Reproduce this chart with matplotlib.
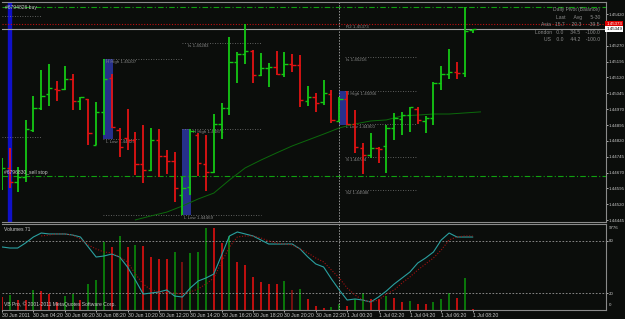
import matplotlib
matplotlib.use('Agg')
import matplotlib.pyplot as plt
from matplotlib.patches import Rectangle

plt.rcParams['font.family'] = ['Liberation Sans', 'DejaVu Sans']

# ---------------- data ----------------
opens = [1.44597, 1.44692, 1.44625, 1.44649, 1.44871, 1.44975, 1.45042, 1.45065, 1.45065, 1.45113,
         1.45009, 1.45018, 1.44800, 1.44957, 1.45117, 1.44871, 1.44834, 1.44824, 1.44711, 1.44682,
         1.44824, 1.44748, 1.44725, 1.44564, 1.44602, 1.44848, 1.44711, 1.44673, 1.44900, 1.44975,
         1.45193, 1.45231, 1.45245, 1.45132, 1.45165, 1.45169, 1.45136, 1.45184, 1.45179, 1.45009,
         1.45027, 1.45004, 1.45042, 1.44914, 1.45018, 1.44900, 1.44786, 1.44753, 1.44786, 1.44796,
         1.44881, 1.44923, 1.44942, 1.44971, 1.44914, 1.44928, 1.45094, 1.45136, 1.45146, 1.45141,
         1.45344]
highs = [1.44739, 1.44786, 1.44696, 1.44919, 1.45032, 1.45155, 1.45184, 1.45103, 1.45174, 1.45136,
         1.45027, 1.45018, 1.45004, 1.45207, 1.45136, 1.44881, 1.44971, 1.44862, 1.44895, 1.44881,
         1.44876, 1.44777, 1.44767, 1.44649, 1.44876, 1.44857, 1.44848, 1.44947, 1.44999, 1.45311,
         1.45240, 1.45373, 1.45250, 1.45236, 1.45188, 1.45245, 1.45240, 1.45231, 1.45226, 1.45079,
         1.45046, 1.45108, 1.45061, 1.45027, 1.45056, 1.44966, 1.44810, 1.44857, 1.44791, 1.44895,
         1.44952, 1.44957, 1.44980, 1.44980, 1.44938, 1.45098, 1.45174, 1.45254, 1.45193, 1.45453,
         1.45349]
lows = [1.44588, 1.44597, 1.44578, 1.44625, 1.44862, 1.44966, 1.44985, 1.45009, 1.45061, 1.44966,
        1.44966, 1.44800, 1.44800, 1.44848, 1.44881, 1.44744, 1.44777, 1.44659, 1.44621, 1.44677,
        1.44649, 1.44663, 1.44531, 1.44469, 1.44564, 1.44654, 1.44583, 1.44668, 1.44829, 1.44942,
        1.45094, 1.45184, 1.45094, 1.45127, 1.45075, 1.45132, 1.45122, 1.45146, 1.44980, 1.44985,
        1.44957, 1.44990, 1.44904, 1.44909, 1.44895, 1.44763, 1.44663, 1.44739, 1.44715, 1.44668,
        1.44824, 1.44848, 1.44862, 1.44900, 1.44857, 1.44895, 1.45061, 1.45113, 1.45113, 1.45122,
        1.45330]
closes = [1.44692, 1.44625, 1.44649, 1.44876, 1.44975, 1.45032, 1.45070, 1.45061, 1.45113, 1.45009,
          1.45027, 1.44857, 1.44957, 1.45113, 1.44886, 1.44791, 1.44824, 1.44711, 1.44682, 1.44824,
          1.44748, 1.44725, 1.44597, 1.44597, 1.44867, 1.44715, 1.44673, 1.44900, 1.44975, 1.45193,
          1.45231, 1.45245, 1.45132, 1.45165, 1.45169, 1.45136, 1.45184, 1.45179, 1.45013, 1.45027,
          1.44999, 1.45046, 1.44919, 1.45018, 1.44900, 1.44791, 1.44753, 1.44786, 1.44781, 1.44881,
          1.44928, 1.44942, 1.44980, 1.44919, 1.44928, 1.45094, 1.45136, 1.45146, 1.45141, 1.45340,
          1.45349]

volumes = [1480, 1710, 1140, 1140, 2280, 2170, 1820, 910, 1600, 1820,
           1140, 2960, 3420, 7750, 7180, 8440, 7180, 7410, 7300, 6040,
           5810, 5810, 6610, 5470, 6500, 6610, 9350, 9350, 7640, 8440,
           5470, 5130, 3760, 3190, 2960, 2960, 3310, 2280, 2390, 1250,
           460, 230, 340, 680, 460, 1250, 1940, 1250, 1250, 1600,
           1370, 910, 1030, 680, 680, 910, 1250, 1940, 1370, 3650, 110]
volume_colors = ['r', 'g', 'r', 'r', 'g', 'r', 'r', 'r', 'g', 'g',
                 'r', 'g', 'g', 'g', 'r', 'g', 'r', 'g', 'r', 'r',
                 'r', 'r', 'g', 'd', 'g', 'g', 'g', 'r', 'r', 'g',
                 'r', 'r', 'r', 'r', 'r', 'r', 'g', 'd', 'g', 'r',
                 'r', 'r', 'g', 'g', 'r', 'g', 'g', 'r', 'r', 'g',
                 'r', 'r', 'g', 'r', 'r', 'g', 'g', 'g', 'r', 'g', 'r']

osc_line = [73.1, 71.9, 71.9, 77.7, 84.6, 89.2, 88.1, 88.1, 88.1, 86.9,
            84.6, 73.1, 61.5, 62.7, 65.0, 61.5, 50.0, 35.0, 18.8, 20.0,
            21.2, 23.5, 16.5, 15.4, 25.8, 33.8, 37.3, 41.9, 63.8, 85.8,
            90.4, 88.1, 85.8, 81.2, 76.5, 76.5, 76.5, 76.5, 70.8, 61.5,
            53.5, 50.0, 36.2, 23.5, 11.9, 13.1, 11.9, 9.6, 15.4, 22.3,
            30.4, 37.3, 44.2, 54.6, 60.4, 67.3, 81.2, 89.2, 84.6, 84.6, 84.6]
signal_start = 5
signal_line = [85.8, 86.9, 88.1, 88.1, 86.9, 82.3, 75.4, 70.8, 67.3, 66.2,
               61.5, 55.8, 41.9, 30.4, 23.5, 21.2, 20.0, 20.0, 18.8, 21.2,
               24.6, 30.4, 37.3, 55.8, 73.1, 84.6, 85.8, 85.8, 83.5, 80.0,
               77.7, 76.5, 75.4, 70.8, 66.2, 60.4, 55.8, 46.5, 37.3, 25.8,
               17.7, 11.9, 9.6, 11.9, 18.8, 23.5, 31.5, 38.5, 46.5, 53.5,
               60.4, 69.6, 81.2, 84.6, 85.8, 85.8]

ma_bars = [17, 19, 21, 23, 25, 27, 29, 31, 33, 35, 37, 39, 41, 43, 45, 47, 49, 51, 53, 55, 57, 59, 61]
ma_vals = [1.44446, 1.44465, 1.44483, 1.44512, 1.44545, 1.44573, 1.44635, 1.44692, 1.44729, 1.44763,
           1.44796, 1.44824, 1.44852, 1.44881, 1.44900, 1.44914, 1.44919, 1.44938, 1.44942, 1.44947,
           1.44947, 1.44952, 1.44957]

# highlighted boxes: (first bar, last bar, top, bottom)
box_first = [13, 23, 43]
box_last = [14, 24, 44]
box_top = [1.45207, 1.44876, 1.45056]
box_bottom = [1.44829, 1.44469, 1.44895]

# dotted level lines: price, start bar, end bar, label
level_price = [1.45411, 1.44838, 1.45207, 1.44829, 1.45283, 1.44876, 1.44469,
               1.45216, 1.45056, 1.44900, 1.44744, 1.44588]
level_start = [0.0, 0.0, 12.9, 12.9, 22.9, 22.9, 12.9, 43.7, 43.7, 44.0, 43.7, 43.7]
level_end = [5.0, 5.0, 22.9, 17.6, 33.0, 33.0, 33.0, 52.9, 52.9, 52.9, 52.9, 52.9]
level_label = ['', '', 'H High 1.45207', 'L Low 1.44829', 'Is 1.45283', 'H High 1.44876',
               'L Low 1.44469', 'Is 1.45216', 'H High 1.45056', 'L Low 1.44900',
               'S 1.44744', 'S2 1.44588']
level_label_bar = [0, 0, 13.3, 13.3, 23.7, 24.3, 23.2, 43.8, 43.8, 43.8, 43.8, 43.8]
ask_label = 'R2 1.45373'

price_ticks = [1.45420, 1.45270, 1.45195, 1.45120, 1.45045, 1.44970, 1.44895,
               1.44820, 1.44745, 1.44670, 1.44595, 1.44520, 1.44445]
ask_price = 1.45373
bid_price = 1.45349
buy_level = 1.45453
sell_stop_level = 1.44654

date_ticks = [0, 4, 8, 12, 16, 20, 24, 28, 32, 36, 40, 44, 48, 52, 56, 60]
date_labels = ['30 Jun 2011', '30 Jun 04:20', '30 Jun 06:20', '30 Jun 08:20', '30 Jun 10:20',
               '30 Jun 12:20', '30 Jun 14:20', '30 Jun 16:20', '30 Jun 18:20', '30 Jun 20:20',
               '30 Jun 22:20', '1 Jul 00:20', '1 Jul 02:20', '1 Jul 04:20', '1 Jul 06:20',
               '1 Jul 08:20']
day_sep_bar = 43

# ---------------- styling ----------------
BG = '#0b0d0b'
GRID = '#8a8a8a'
TXT = '#c8c8c8'
LVL = '#7a7a7a'
UP = '#14c814'
DN = '#e31313'
FS = 3.2

W, H = 625, 319
fig = plt.figure(figsize=(W / 100, H / 100), dpi=100, facecolor=BG)
ax = fig.add_axes([2 / W, 1 - 222 / H, 604 / W, 220 / H], facecolor=BG)
ax2 = fig.add_axes([2 / W, 1 - 310 / H, 604 / W, 86 / H], facecolor=BG)

XMIN, XMAX = 0.0, 77.0
ax.set_xlim(XMIN, XMAX)
ax.set_ylim(1.444362, 1.454768)
ax2.set_xlim(XMIN, XMAX)
ax2.set_ylim(0.4, 99.6)

for a in (ax, ax2):
    for s in a.spines.values():
        s.set_color(GRID)
        s.set_linewidth(0.8)
    a.spines['left'].set_visible(False)
    a.tick_params(colors=TXT, labelsize=FS, length=1.5, width=0.6, pad=0.6)

# blue band at left
ax.axvspan(0.75, 1.2, color='#1010c8', zorder=1)

# boxes
for b0, b1, t, bt in zip(box_first, box_last, box_top, box_bottom):
    ax.add_patch(Rectangle((b0 - 0.1, bt), (b1 - b0) + 0.2, t - bt,
                           facecolor='#26308c', edgecolor='none', zorder=1))

# level lines and labels
for p, s0, s1, lab, lb in zip(level_price, level_start, level_end, level_label, level_label_bar):
    ax.hlines(p, s0, s1, color=LVL, lw=0.6, ls=(0, (1, 2)), zorder=2)
    if lab:
        ax.text(lb, p - 0.00003, lab, fontsize=FS, color='#8a8a8a', va='top', ha='left', zorder=2)
ax.text(43.8, ask_price - 0.00003, ask_label, fontsize=FS, color='#8a8a8a', va='top', ha='left')

# horizontal levels
ax.axhline(buy_level, color='#10a010', lw=0.8, ls=(0, (5, 2, 1, 2)), zorder=2)
ax.axhline(sell_stop_level, color='#10a010', lw=0.8, ls=(0, (5, 2, 1, 2)), zorder=2)
ax.axhline(ask_price, color='#c01010', lw=0.8, ls=(0, (1, 1.5)), zorder=2)
ax.axhline(bid_price, color='#a0a0a0', lw=0.8, zorder=2)
ax.axvline(day_sep_bar, color='#9a9a9a', lw=0.7, ls=(0, (1.5, 1.5)), zorder=2)
ax2.axvline(day_sep_bar, color='#9a9a9a', lw=0.7, ls=(0, (1.5, 1.5)), zorder=2)

# moving average
ax.plot(ma_bars, ma_vals, color='#0b6a0b', lw=0.7, zorder=2)

# OHLC bars
for i, (o, h, l, c) in enumerate(zip(opens, highs, lows, closes)):
    col = UP if c >= o else DN
    ax.vlines(i, l, h, color=col, lw=1.3, zorder=3)
    ax.hlines(o, i - 0.42, i, color=col, lw=1.0, zorder=3)
    ax.hlines(c, i, i + 0.42, color=col, lw=1.0, zorder=3)

# right axis price labels
ax.yaxis.tick_right()
ax.set_yticks(price_ticks)
ax.set_yticklabels([f'{p:.5f}' for p in price_ticks])
ax.set_xticks([])
ax.text(1.0005, ask_price, f'{ask_price:.5f}', transform=ax.get_yaxis_transform(),
        fontsize=FS, color='white', va='center', ha='left',
        bbox=dict(boxstyle='square,pad=0.2', fc='#e00000', ec='none'))
ax.text(1.0005, bid_price, f'{bid_price:.5f}', transform=ax.get_yaxis_transform(),
        fontsize=FS, color='black', va='center', ha='left',
        bbox=dict(boxstyle='square,pad=0.2', fc='white', ec='none'))

# labels in main chart
ax.text(0.005, 0.985, '#6794826 buy', transform=ax.transAxes, fontsize=3.6, color=TXT, va='top')
ax.text(0.2, sell_stop_level + 0.00006, '#6796830_sell stop', fontsize=3.6, color=TXT, va='bottom')
table = ['Daily Pivot (Balance)', 'Last      Avg      5-30', 'Asia   15.7     20.3     -39.5',
         'London   0.0     34.5    -100.0', 'US    0.0     44.2    -100.0']
for k, line in enumerate(table):
    ax.text(0.99, 0.975 - k * 0.034, line, transform=ax.transAxes, fontsize=3.6,
            color='#8c8c8c', va='top', ha='right')

# volume panel
axv = ax2.twinx()
axv.set_ylim(0, 9800)
axv.set_xlim(XMIN, XMAX)
axv.set_yticks([])
for s in axv.spines.values():
    s.set_visible(False)
cmap = {'g': '#0a8a0a', 'r': '#e01010', 'd': '#8a1010'}
for i, (v, cc) in enumerate(zip(volumes, volume_colors)):
    axv.vlines(i, 0, v, color=cmap[cc], lw=1.2, zorder=2)
ax2.set_zorder(axv.get_zorder() + 1)
ax2.patch.set_visible(False)
fig.patches.append(Rectangle((2 / W, 1 - 310 / H), 604 / W, 86 / H, transform=fig.transFigure,
                             facecolor=BG, edgecolor='none', zorder=-5))
ax2.axhline(80, color='#9a9a9a', lw=0.6, ls=(0, (2, 2)))
ax2.axhline(20, color='#9a9a9a', lw=0.6, ls=(0, (2, 2)))
ax2.plot(range(len(osc_line)), osc_line, color='#2aa0a0', lw=0.8, zorder=4)
ax2.plot(range(signal_start, signal_start + len(signal_line)), signal_line,
         color='#a01010', lw=0.8, ls=(0, (1, 1.5)), zorder=4)

ax2.yaxis.tick_right()
ax2.set_yticks([20, 80])
ax2.set_yticklabels(['20', '80'])
ax2.text(1.004, 0.98, '9776', transform=ax2.transAxes, fontsize=FS, color=TXT, va='top')
ax2.text(1.004, 0.04, '0', transform=ax2.transAxes, fontsize=FS, color=TXT, va='bottom')
ax2.text(0.004, 0.96, 'Volumes 71', transform=ax2.transAxes, fontsize=3.6, color=TXT, va='top')
ax2.text(0.004, 0.03, 'VB Pro, \u00a9 2001-2011 MetaQuotes Software Corp.', transform=ax2.transAxes,
         fontsize=3.6, color=TXT, va='bottom')

ax2.set_xticks(date_ticks)
ax2.set_xticklabels(date_labels)
ax2.tick_params(axis='x', labelsize=3.7, pad=0.8)
for t in ax2.get_xticklabels():
    t.set_ha('left')

fig.savefig('out.png', dpi=100, facecolor=BG)
